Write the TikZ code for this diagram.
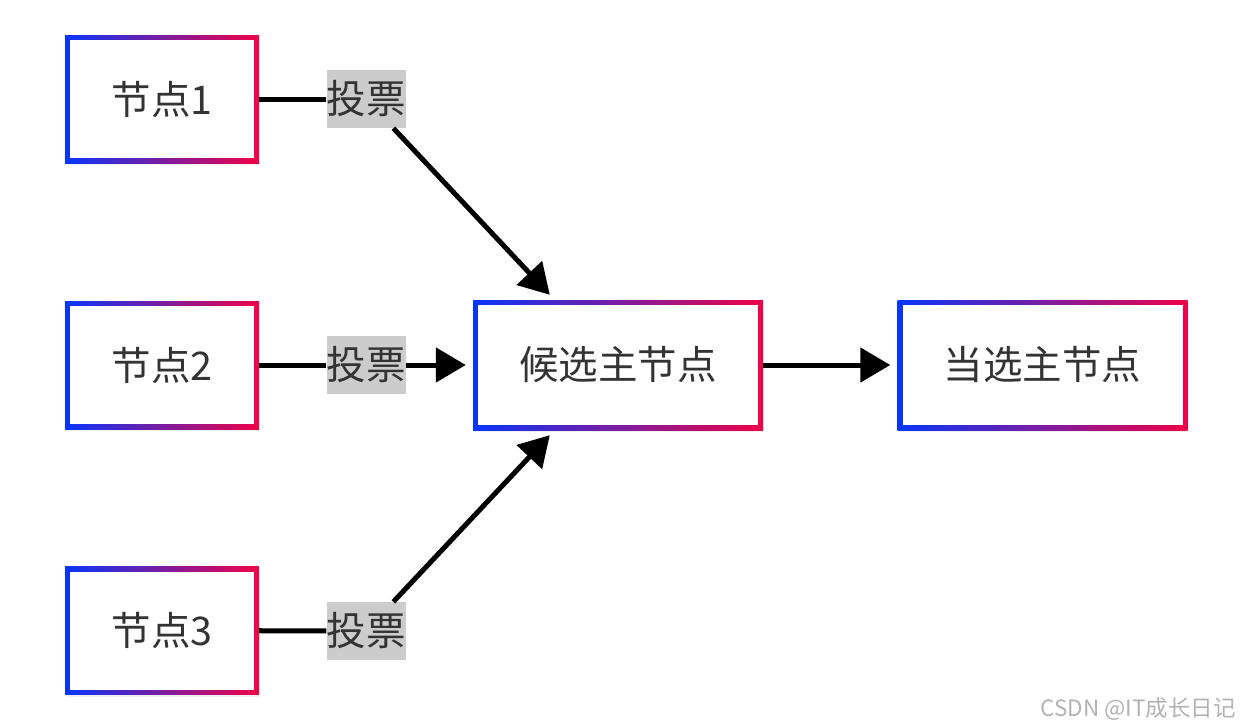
\documentclass[tikz,border=0pt]{standalone}
\usepackage{fontspec}
\setmainfont{Noto Sans CJK SC}
\usepackage{tikz}
\usetikzlibrary{arrows.meta,shadows}
\definecolor{gblue}{HTML}{0536FA}
\definecolor{gred}{HTML}{EF0347}
\definecolor{txtgray}{HTML}{333333}
\definecolor{tagfill}{HTML}{CCCCCC}
\tikzstyle{gbox} = [rectangle, inner sep=0pt, fill=white, text=txtgray, font=\fontsize{39.5}{46}\selectfont,
  drop shadow={opacity=0.12, shadow xshift=1pt, shadow yshift=-2pt},
  path picture={\shade[left color=gblue, right color=gred] (path picture bounding box.south west) rectangle (path picture bounding box.north east);
    \fill[white] ([xshift=5pt,yshift=-5pt]path picture bounding box.north west) rectangle ([xshift=-5pt,yshift=5pt]path picture bounding box.south east);}]
\tikzstyle{small} = [gbox, minimum width=194pt, minimum height=128pt]
\tikzstyle{wide} = [gbox, minimum width=290pt, minimum height=130pt]
\tikzstyle{vote} = [fill=tagfill, text=txtgray, inner sep=0pt, minimum width=78pt, minimum height=58pt, font=\fontsize{39.5}{46}\selectfont]
\tikzstyle{link} = [line width=5pt, black]
\tikzstyle{arrow} = [link, -{Triangle[length=30pt,width=34pt]}]

\begin{document}
\begin{tikzpicture}[x=1pt, y=-1pt]
\useasboundingbox (0,0) rectangle (1240,728);
% voter nodes
\node [small] (n1) at (162,99) {节点1};
\node [small] (n2) at (162,365) {节点2};
\node [small] (n3) at (162,630.5) {节点3};
% candidate and elected
\node [wide] (cand) at (618,365) {候选主节点};
\node [wide] (elected) at (1042.5,365) {当选主节点};
% vote labels
\node [vote] (v1) at (366,99) {投票};
\node [vote] (v2) at (366,365) {投票};
\node [vote] (v3) at (366,631) {投票};
% connectors
\draw [link] (n1) -- (v1);
\draw [link] (n2) -- (v2);
\draw [link] (n3) -- (v3);
\draw [arrow] (v1) -- ([xshift=77pt,yshift=5pt]cand.north west);
\draw [arrow, shorten >=7pt] (v2) -- (cand);
\draw [arrow] (v3) -- ([xshift=77pt,yshift=-5pt]cand.south west);
\draw [arrow, shorten >=7pt] (cand) -- (elected);
% watermark
\node [anchor=east, text=black!30, font=\fontsize{22.5}{26}\selectfont, inner sep=0pt] (mark) at (1236,709) {CSDN @IT成长日记};
\end{tikzpicture}
\end{document}
